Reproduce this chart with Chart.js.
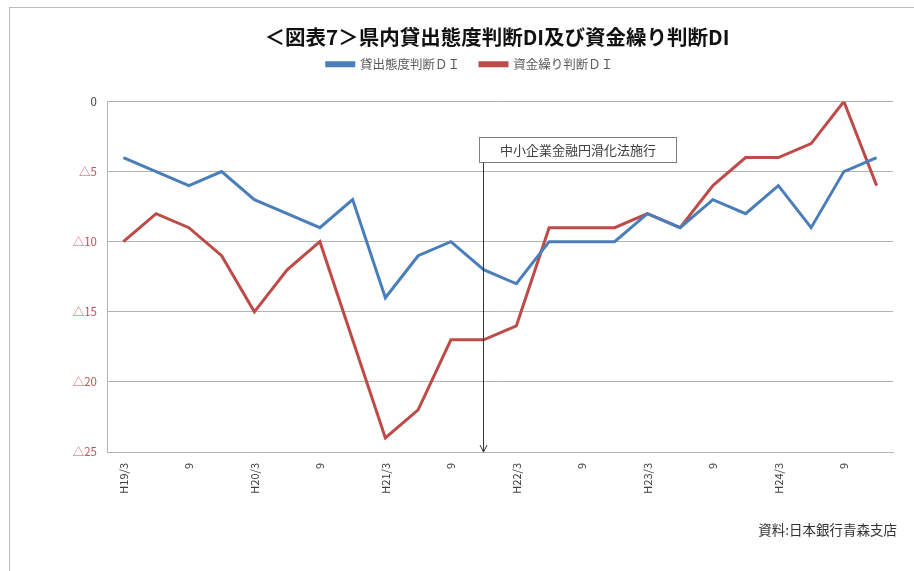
<!DOCTYPE html>
<html lang="ja">
<head>
<meta charset="utf-8">
<script src="https://cdn.jsdelivr.net/npm/chart.js@4.4.1/dist/chart.umd.min.js"></script>
<style>
  html, body { margin: 0; padding: 0; background: #fff; }
  #wrap { width: 914px; height: 571px; position: relative; }
</style>
</head>
<body>
<div id="wrap"><canvas id="diChart"></canvas></div>
<script>
// 期間（四半期）
const quarters = ['H19/3', '6', '9', '12', 'H20/3', '6', '9', '12',
  'H21/3', '6', '9', '12', 'H22/3', '6', '9', '12',
  'H23/3', '6', '9', '12', 'H24/3', '6', '9', '12'];

// 貸出態度判断DI
const lendingDI = [-4, -5, -6, -5, -7, -8, -9, -7, -14, -11, -10, -12,
  -13, -10, -10, -10, -8, -9, -7, -8, -6, -9, -5, -4];

// 資金繰り判断DI
const fundingDI = [-10, -8, -9, -11, -15, -12, -10, -17, -24, -22, -17, -17,
  -16, -9, -9, -9, -8, -9, -6, -4, -4, -3, 0, -6];

const seriesNames = ['貸出態度判断ＤＩ', '資金繰り判断ＤＩ'];
const yTicks = [0, -5, -10, -15, -20, -25];

const titleText = '＜図表7＞県内貸出態度判断DI及び資金繰り判断DI';
const sourceText = '資料:日本銀行青森支店';

// 注記
const noteText = '中小企業金融円滑化法施行';
const noteIndex = 11; // H21/12

const jpFont = '"Noto Sans CJK JP", "Noto Sans", sans-serif';

// 凡例の下に余白をとる
const legendGap = {
  id: 'legendGap',
  beforeInit(chart) {
    const fit = chart.legend.fit;
    chart.legend.fit = function () {
      fit.bind(chart.legend)();
      this.height += 21;
    };
  }
};

// 外枠・タイトル・出典
const framePlugin = {
  id: 'frame',
  beforeDraw(chart) {
    const c = chart.ctx;
    c.save();
    c.fillStyle = '#fff';
    c.fillRect(0, 0, chart.width, chart.height);
    c.strokeStyle = '#bcbcbc';
    c.lineWidth = 1;
    c.strokeRect(9.5, 7.5, chart.width + 20, chart.height + 20);
    c.restore();
  },
  afterDraw(chart) {
    const c = chart.ctx;
    c.save();
    c.textBaseline = 'middle';
    c.font = 'bold 20.5px ' + jpFont;
    c.fillStyle = '#111';
    c.textAlign = 'center';
    c.fillText(titleText, 497, 37);
    c.font = '13.5px ' + jpFont;
    c.fillStyle = '#333';
    c.textAlign = 'right';
    c.fillText(sourceText, chart.chartArea.right + 4, 530);
    c.restore();
  }
};

// 矢印付き注記
const notePlugin = {
  id: 'note',
  afterDatasetsDraw(chart) {
    const c = chart.ctx;
    const xs = chart.scales.x, ys = chart.scales.y;
    const x = Math.round(xs.getPixelForValue(noteIndex)) - 0.5;
    const top = Math.round(ys.getPixelForValue(-2.5)) + 0.5;
    const bottom = Math.round(ys.getPixelForValue(-4.35)) + 0.5;
    const left = x - 4;
    const right = left + 197;
    c.save();
    c.fillStyle = '#fff';
    c.fillRect(left, top, right - left, bottom - top);
    c.strokeStyle = '#7f7f7f';
    c.lineWidth = 1;
    c.strokeRect(left, top, right - left, bottom - top);
    c.font = '13px ' + jpFont;
    c.fillStyle = '#404040';
    c.textAlign = 'center';
    c.textBaseline = 'middle';
    c.fillText(noteText, (left + right) / 2, (top + bottom) / 2);
    // 矢印
    const yEnd = chart.chartArea.bottom;
    c.strokeStyle = '#333';
    c.beginPath();
    c.moveTo(x, bottom);
    c.lineTo(x, yEnd);
    c.moveTo(x - 3.5, yEnd - 7);
    c.lineTo(x, yEnd);
    c.lineTo(x + 3.5, yEnd - 7);
    c.stroke();
    c.restore();
  }
};

const ctx = document.getElementById('diChart');

new Chart(ctx, {
  type: 'line',
  data: {
    labels: quarters,
    datasets: [
      {
        label: seriesNames[0],
        data: lendingDI,
        borderColor: '#4a7ebb',
        backgroundColor: '#4a7ebb',
        borderWidth: 3,
        pointRadius: 0,
        tension: 0
      },
      {
        label: seriesNames[1],
        data: fundingDI,
        borderColor: '#be4b48',
        backgroundColor: '#be4b48',
        borderWidth: 3,
        pointRadius: 0,
        tension: 0
      }
    ]
  },
  options: {
    responsive: true,
    maintainAspectRatio: false,
    animation: false,
    devicePixelRatio: 1,
    layout: {
      padding: { left: 47, right: 21, top: 38, bottom: 0 }
    },
    plugins: {
      title: { display: false },
      legend: {
        display: true,
        labels: {
          boxWidth: 27,
          boxHeight: 3,
          padding: 20,
          color: '#595959',
          font: { family: jpFont, size: 12.5 }
        }
      },
      tooltip: { enabled: false }
    },
    scales: {
      x: {
        offset: true,
        grid: { display: false },
        border: { display: true, color: '#b3b3b3' },
        ticks: {
          autoSkip: false,
          maxRotation: 90,
          minRotation: 90,
          color: '#404040',
          font: { family: jpFont, size: 11 },
          callback: function (v, i) { return i % 2 === 0 ? quarters[i] : ''; }
        },
        afterFit: function (s) { s.height = 119; }
      },
      y: {
        min: -25,
        max: 0,
        afterBuildTicks: function (s) { s.ticks = yTicks.map(v => ({ value: v })); },
        grid: { color: '#b3b3b3', drawTicks: false },
        border: { display: true, color: '#b3b3b3' },
        ticks: {
          padding: 10,
          color: function (c) { return c.tick.value === 0 ? '#404040' : '#c8505a'; },
          font: { family: jpFont, size: 11.5 },
          callback: function (v) { return v === 0 ? '0' : '△' + Math.abs(v); }
        },
        afterFit: function (s) { s.width = 60; }
      }
    }
  },
  plugins: [legendGap, framePlugin, notePlugin]
});
</script>
</body>
</html>
